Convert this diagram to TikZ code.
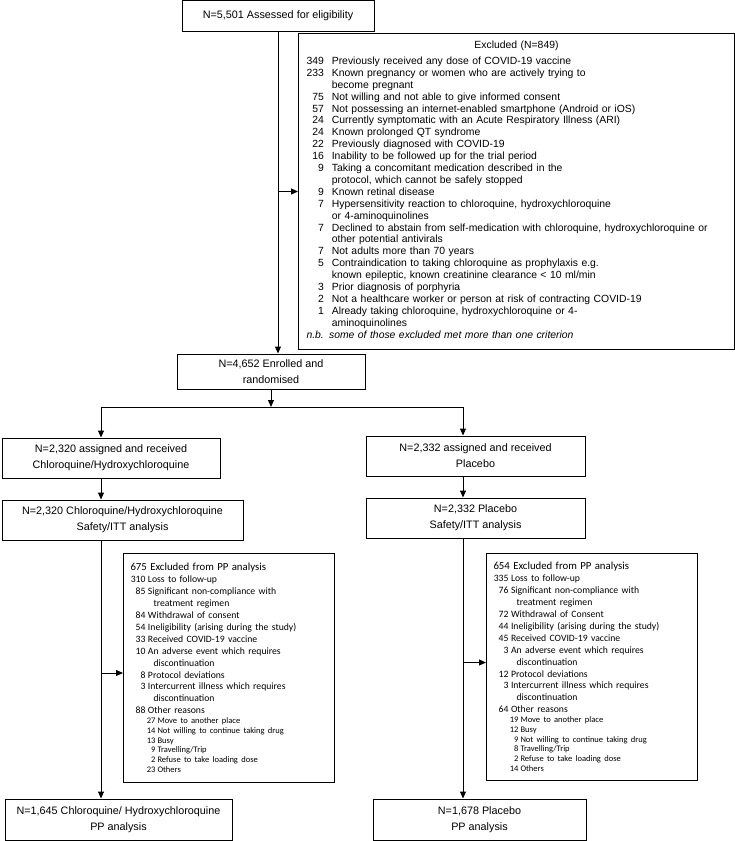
\documentclass[tikz,border=0pt]{standalone}
\usepackage{fontspec}
\setmainfont{Liberation Sans}
\newfontfamily\calibri{Carlito}
\usetikzlibrary{positioning,arrows.meta,calc}

% lines of the PP exclusion boxes
\newcommand\pptitle[1]{{\fontsize{10.8}{13}\selectfont\hspace*{4pt}#1\par}}
\newcommand\ppitem[2]{{\fontsize{9.7}{11.9}\selectfont\makebox[19pt][r]{#1}\hspace{2.5pt}#2\par}}
\newcommand\ppcont[1]{{\fontsize{9.7}{11.9}\selectfont\hspace*{27pt}#1\par}}
\newcommand\ppsub[2]{{\fontsize{8.5}{9.8}\selectfont\makebox[29pt][r]{#1}\hspace{2pt}#2\par}}

\begin{document}
\begin{tikzpicture}[x=1pt,y=-1pt,
    box/.style={draw, line width=1pt, align=center, inner sep=0pt,
      font=\fontsize{10.8}{16}\selectfont},
    listbox/.style={draw, line width=1pt, anchor=north west, inner ysep=0pt, align=left},
    ln/.style={line width=1pt},
    arr/.style={line width=1pt, -{Triangle[length=7pt,width=6pt]}}]
  \useasboundingbox (0,0) rectangle (735,841);

  \node[box, minimum width=192pt, minimum height=31pt] (assess) at (278,16) {N=5,501 Assessed for eligibility};

  \node[listbox, minimum width=436pt, minimum height=316pt, text width=420pt, inner xsep=8pt,
    font=\fontsize{10.4}{11.9}\selectfont] (excl) at (298,33) {%
    \makebox[\linewidth]{Excluded (N=849)}\\[4.1pt]
    \begin{tabular}{@{}r@{\hspace{8pt}}l@{}}
      349 & Previously received any dose of COVID-19 vaccine\\
      233 & Known pregnancy or women who are actively trying to\\
          & become pregnant\\
      75 & Not willing and not able to give informed consent\\
      57 & Not possessing an internet-enabled smartphone (Android or iOS)\\
      24 & Currently symptomatic with an Acute Respiratory Illness (ARI)\\
      24 & Known prolonged QT syndrome\\
      22 & Previously diagnosed with COVID-19\\
      16 & Inability to be followed up for the trial period\\
      9 & Taking a concomitant medication described in the\\
        & protocol, which cannot be safely stopped\\
      9 & Known retinal disease\\
      7 & Hypersensitivity reaction to chloroquine, hydroxychloroquine\\
        & or 4-aminoquinolines\\
      7 & Declined to abstain from self-medication with chloroquine, hydroxychloroquine or\\
        & other potential antivirals\\
      7 & Not adults more than 70 years\\
      5 & Contraindication to taking chloroquine as prophylaxis e.g.\\
        & known epileptic, known creatinine clearance < 10 ml/min\\
      3 & Prior diagnosis of porphyria\\
      2 & Not a healthcare worker or person at risk of contracting COVID-19\\
      1 & Already taking chloroquine, hydroxychloroquine or 4-\\
        & aminoquinolines\\
      \multicolumn{2}{@{}l}{\itshape n.b. some of those excluded met more than one criterion}
    \end{tabular}};

  \node[box, minimum width=188pt, minimum height=35pt] (enrol) at (271,371.5) {N=4,652 Enrolled and\\randomised};

  \node[box, minimum width=218pt, minimum height=40pt] (armA) at (111,458) {N=2,320 assigned and received\\Chloroquine/Hydroxychloroquine};
  \node[box, minimum width=219pt, minimum height=40pt] (armB) at (475.5,456) {N=2,332 assigned and received\\Placebo};

  \node[box, minimum width=241pt, minimum height=40pt] (ittA) at (122.5,520) {N=2,320 Chloroquine/Hydroxychloroquine\\Safety/ITT analysis};
  \node[box, minimum width=219pt, minimum height=40pt] (ittB) at (475.5,518) {N=2,332 Placebo\\Safety/ITT analysis};

  \node[listbox, minimum width=211pt, minimum height=229pt, text width=205pt, inner xsep=3pt,
    font=\calibri] (ppexA) at (123,553) {%
    \pptitle{675 Excluded from PP analysis}
    \ppitem{310}{Loss to follow-up}
    \ppitem{85}{Significant non-compliance with}
    \ppcont{treatment regimen}
    \ppitem{84}{Withdrawal of consent}
    \ppitem{54}{Ineligibility (arising during the study)}
    \ppitem{33}{Received COVID-19 vaccine}
    \ppitem{10}{An adverse event which requires}
    \ppcont{discontinuation}
    \ppitem{8}{Protocol deviations}
    \ppitem{3}{Intercurrent illness which requires}
    \ppcont{discontinuation}
    \ppitem{88}{Other reasons}
    \ppsub{27}{Move to another place}
    \ppsub{14}{Not willing to continue taking drug}
    \ppsub{13}{Busy}
    \ppsub{9}{Travelling/Trip}
    \ppsub{2}{Refuse to take loading dose}
    \ppsub{23}{Others}};

  \node[listbox, minimum width=211pt, minimum height=227pt, text width=205pt, inner xsep=3pt,
    font=\calibri] (ppexB) at (486,553) {%
    \pptitle{654 Excluded from PP analysis}
    \ppitem{335}{Loss to follow-up}
    \ppitem{76}{Significant non-compliance with}
    \ppcont{treatment regimen}
    \ppitem{72}{Withdrawal of Consent}
    \ppitem{44}{Ineligibility (arising during the study)}
    \ppitem{45}{Received COVID-19 vaccine}
    \ppitem{3}{An adverse event which requires}
    \ppcont{discontinuation}
    \ppitem{12}{Protocol deviations}
    \ppitem{3}{Intercurrent illness which requires}
    \ppcont{discontinuation}
    \ppitem{64}{Other reasons}
    \ppsub{19}{Move to another place}
    \ppsub{12}{Busy}
    \ppsub{9}{Not willing to continue taking drug}
    \ppsub{8}{Travelling/Trip}
    \ppsub{2}{Refuse to take loading dose}
    \ppsub{14}{Others}};

  \node[box, minimum width=227pt, minimum height=41pt] (ppA) at (118.5,819.5) {N=1,645 Chloroquine/ Hydroxychloroquine\\PP analysis};
  \node[box, minimum width=213pt, minimum height=41pt] (ppB) at (479.5,819.5) {N=1,678 Placebo\\PP analysis};

  % connectors
  \coordinate (splitA) at (101,407);
  \coordinate (splitB) at (463,407);
  \draw[arr] (assess.south) -- (assess |- enrol.north);
  \draw[arr] (assess |- excl.west) -- (excl.west);
  \draw[arr] (enrol.south) -- (enrol |- splitA);
  \draw[ln] (splitA) -- (splitB);
  \foreach \s/\a/\b/\c/\d/\dy in {splitA/armA/ittA/ppexA/ppA/5, splitB/armB/ittB/ppexB/ppB/-4.5} {
    \draw[arr] (\s) -- (\s |- \a.north);
    \draw[arr] (\s |- \a.south) -- (\s |- \b.north);
    \draw[arr] (\s |- \b.south) -- (\s |- \d.north);
    \draw[arr] ($(\s |- \c.west)+(0,\dy)$) -- ($(\c.west)+(0,\dy)$);
  }
\end{tikzpicture}
\end{document}
